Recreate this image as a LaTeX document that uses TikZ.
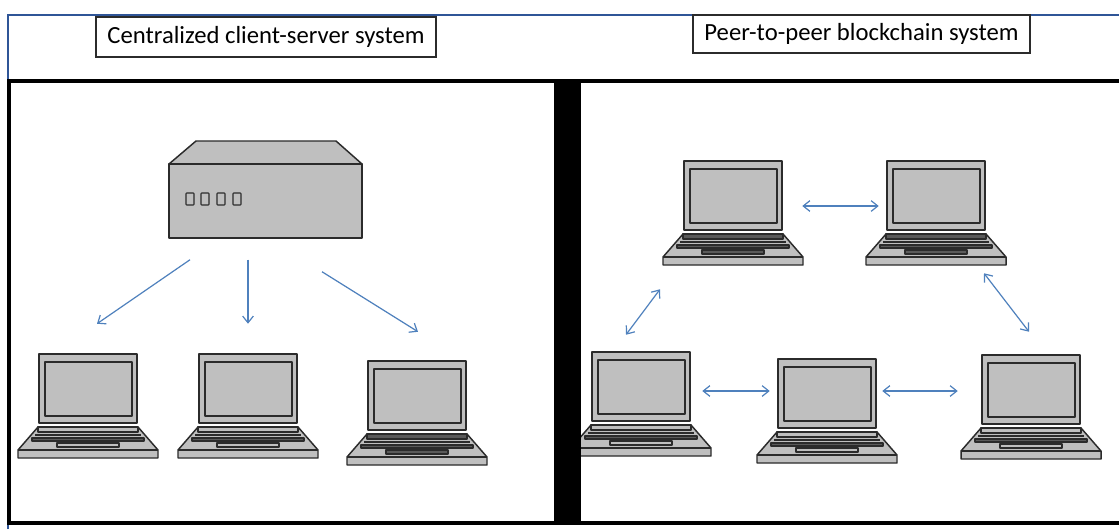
\documentclass[tikz,border=0pt]{standalone}
\usepackage{fontspec}
\setmainfont{Carlito}
\usetikzlibrary{arrows.meta}
\definecolor{framblue}{HTML}{2F5597}
\definecolor{linkblue}{HTML}{4F81BD}
\definecolor{bodygrey}{HTML}{BFBFBF}
\definecolor{edgegrey}{HTML}{2B2B2B}
\definecolor{keygrey}{HTML}{5A5A5A}
\begin{document}
\begin{tikzpicture}
  [
    x = 0.75pt, y = -0.75pt,
    titlebox/.style = {draw=edgegrey, fill=white, line width=1pt, inner sep=0pt, font=\fontsize{18.5}{22}\selectfont},
    part/.style     = {draw=edgegrey, fill=bodygrey, line width=1.1pt, line join=round},
    srvbox/.style   = {part, inner sep=0pt, minimum width=144.75pt, minimum height=55.5pt},
    lapbox/.style   = {inner sep=0pt, minimum width=105pt, minimum height=78pt},
    link/.style     = {draw=linkblue, line width=0.9pt, -{Straight Barb[length=5pt,width=8pt]}},
    biglink/.style  = {link, {Straight Barb[length=5pt,width=8pt]}-{Straight Barb[length=5pt,width=8pt]}},
    pics/laptop/.style = {code = {
      \node [lapbox] (-box) at (70,52) {};
      \draw [part] (21,0) rectangle (119,69);
      \draw [part] (27,8) rectangle (114,62);
      \draw [part] (20,73) -- (120,73) -- (140,96) -- (140,104) -- (0,104) -- (0,96) -- cycle;
      \draw [part] (0,96) -- (140,96);
      \draw [part, fill=#1] (20,73) rectangle (120,78);
      \draw [edgegrey, line width=1.1pt] (17,81) -- (123,81);
      \draw [part, fill=keygrey, line width=0.8pt] (14,84) rectangle (126,87);
      \draw [part, fill=#1] (39,89) rectangle (101,93);
    }}
  ]
 \useasboundingbox (0,0) rectangle (1119,529);
 \fill [white] (0,0) rectangle (1119,529);
 % frame
 \draw [framblue, line width=1.8pt] (8,529) -- (8,15) -- (1119,15);
 \draw [black, line width=2.4pt] (1119,81) -- (9,81) -- (9,523) -- (1119,523);
 % titles
 \node [titlebox, minimum width=255pt, minimum height=30pt] (titleA) at (266,37) {Centralized client-server system};
 \node [titlebox, minimum width=252.75pt, minimum height=28.5pt] (titleB) at (861.5,34) {Peer-to-peer blockchain system};
 % server
 \draw [part] (169,164) -- (196,141) -- (336,141) -- (362,164) -- cycle;
 \node [srvbox] (srv) at (265.5,201) {};
 \foreach \x in {186,201,217,233}
  \draw [part, line width=0.8pt, rounded corners=0.5pt] (\x,193) rectangle +(8,12);
 % laptops
 \pic (lapA) at (18,354) {laptop=bodygrey};
 \pic (lapB) at (178,354) {laptop=bodygrey};
 \pic (lapC) at (347,361) {laptop=keygrey};
 \pic (lapD) at (663,161) {laptop=keygrey};
 \pic (lapE) at (866,161) {laptop=keygrey};
 \pic (lapF) at (571,352) {laptop=bodygrey};
 \pic (lapG) at (757,359) {laptop=bodygrey};
 \pic (lapH) at (961,355) {laptop=bodygrey};
 % black bar
 \fill [black] (554,81) rectangle (581,523);
 % arrows
 \draw [link] ([shift={(-75.5,21)}]srv.south) -- ([shift={(9,-30)}]lapA-box.north);
 \draw [link] ([shift={(-17.5,21)}]srv.south) -- ([shift={(0,-30)}]lapB-box.north);
 \draw [link] ([shift={(56.5,33)}]srv.south) -- ([shift={(1,-29)}]lapC-box.north);
 \draw [biglink] ([shift={(-1,-7)}]lapD-box.east) -- ([shift={(13,-7)}]lapE-box.west);
 \draw [biglink] ([shift={(-73,24)}]lapD-box.south) -- ([shift={(-15,-17)}]lapF-box.north);
 \draw [biglink] ([shift={(48,8)}]lapE-box.south) -- ([shift={(-2,-23)}]lapH-box.north);
 \draw [biglink] ([shift={(-9,-13)}]lapF-box.east) -- ([shift={(13,-20)}]lapG-box.west);
 \draw [biglink] ([shift={(-15,-20)}]lapG-box.east) -- ([shift={(-3,-16)}]lapH-box.west);
 \end{tikzpicture}
\end{document}
